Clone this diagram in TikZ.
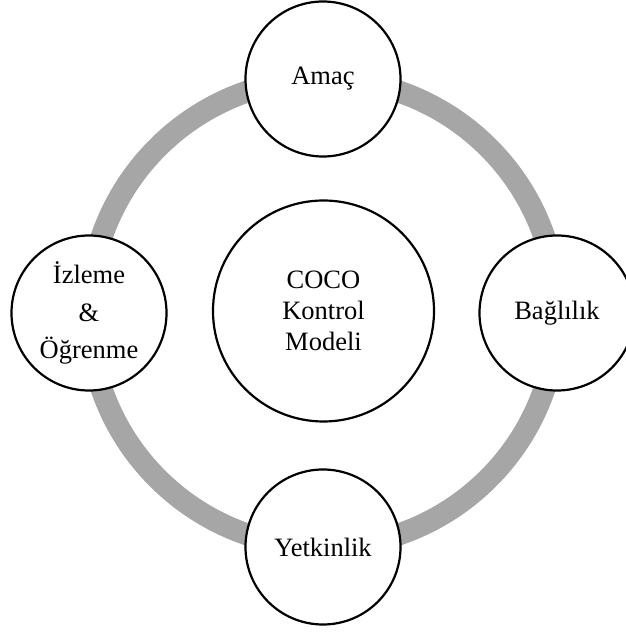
\documentclass[tikz,border=0pt]{standalone}
\usepackage{fontspec}
\setmainfont{Liberation Serif}
\usetikzlibrary{calc}
\begin{document}
\begin{tikzpicture}[x=1pt,y=1pt,
  ringline/.style={line width=22pt, draw=ringgray},
  bubble/.style={circle, draw=black, line width=2.2pt, fill=white,
    inner sep=0pt, minimum size=155pt, align=center,
    font=\fontsize{26.5}{31}\selectfont},
  hub/.style={bubble, minimum size=221pt}]
\definecolor{ringgray}{RGB}{166,166,166}
\useasboundingbox (0,0) rectangle (626,632);
\coordinate (c) at (323,319);
% grey cycle ring through the four outer circles
\draw[ringline] (c) circle (234pt);
% centre circle
\node[hub] (model) at (323.5,321) {COCO\\Kontrol\\Modeli};
% outer circles
\node[bubble] (amac) at ($(c)+(0,234)$) {Amaç};
\node[bubble] (bag) at ($(c)+(234,0)$) {Bağlılık};
\node[bubble] (yet) at ($(c)+(0,-234)$) {Yetkinlik};
\node[bubble, font=\fontsize{26.5}{37.5}\selectfont] (izl) at ($(c)+(-234,0)$) {İzleme\\\&\\Öğrenme};
\end{tikzpicture}
\end{document}
